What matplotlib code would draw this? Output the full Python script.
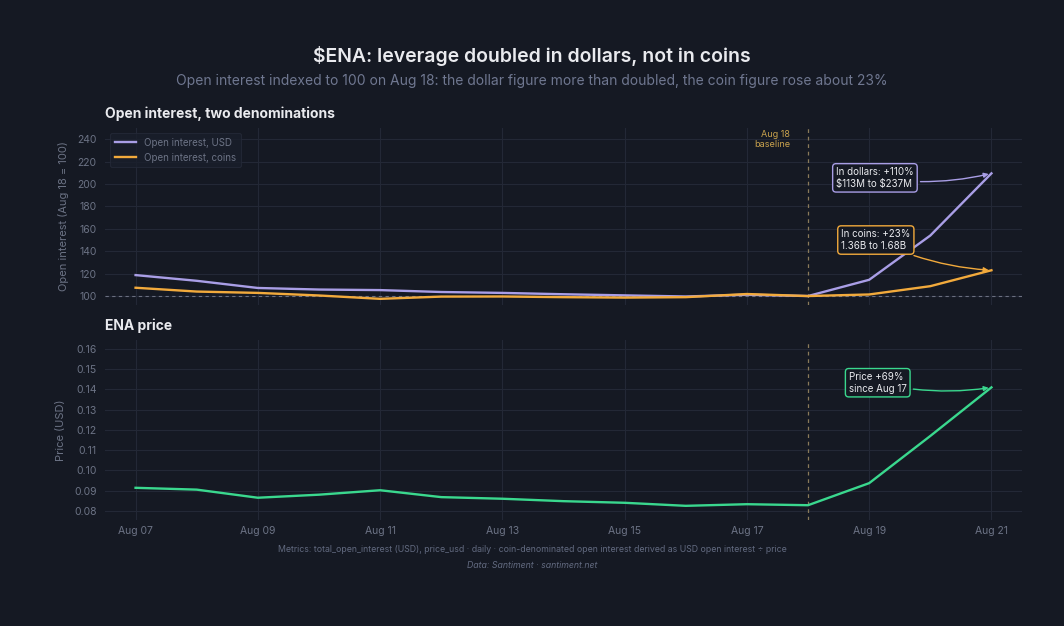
import matplotlib
matplotlib.use("Agg")
import matplotlib.pyplot as plt
import matplotlib.dates as mdates
import numpy as np
import pandas as pd

plt.rcParams['font.family'] = ['Inter', 'DejaVu Sans']

dates = pd.date_range("2025-08-07", "2025-08-21", freq="D")
oi_usd = [118.7, 113.6, 107.2, 105.8, 105.3, 103.6, 102.8, 101.6, 100.6, 99.6, 101.2, 100.0, 114.5, 154.0, 209.5]
oi_coins = [107.4, 104.0, 102.8, 100.5, 97.5, 99.5, 99.6, 99.0, 98.6, 99.0, 101.8, 100.0, 101.4, 108.8, 123.0]
price = [0.0914, 0.0905, 0.0865, 0.0880, 0.0902, 0.0868, 0.0860, 0.0848, 0.0840, 0.0825, 0.0833, 0.0828, 0.0937, 0.1170, 0.1410]
baseline_date = pd.Timestamp("2025-08-18")

BG = "#151923"
GRID = "#232836"
TICK = "#6c7385"
C_USD = "#a99ee6"
C_COIN = "#f2aa3c"
C_PRICE = "#3ad88e"
TXT = "#e9eaee"

fig = plt.figure(figsize=(10.64, 6.26), dpi=100, facecolor=BG)
L, R = 105/1064, 1022/1064
ax1 = fig.add_axes([L, 1-305/626, R-L, (305-128)/626])
ax2 = fig.add_axes([L, 1-520/626, R-L, (520-340)/626])

xmin = dates[0] - pd.Timedelta(hours=12)
xmax = dates[-1] + pd.Timedelta(hours=12)

for ax in (ax1, ax2):
    ax.set_facecolor(BG)
    for s in ax.spines.values():
        s.set_visible(False)
    ax.grid(True, color=GRID, linewidth=0.8)
    ax.set_axisbelow(True)
    ax.tick_params(colors=TICK, labelsize=7.5, length=0, pad=6)
    ax.set_xlim(xmin, xmax)
    ax.xaxis.set_major_locator(mdates.DayLocator(bymonthday=[7, 9, 11, 13, 15, 17, 19, 21]))
    ax.xaxis.set_major_formatter(mdates.DateFormatter("Aug %d"))
    ax.axvline(baseline_date, color="#8a7a5a", linestyle=(0, (3, 3)), linewidth=0.9, zorder=1)

# top panel
ax1.axhline(100, color="#6b7080", linestyle=(0, (3, 3)), linewidth=0.8, zorder=1)
ax1.plot(dates, oi_usd, color=C_USD, linewidth=1.7, label="Open interest, USD", zorder=3)
ax1.plot(dates, oi_coins, color=C_COIN, linewidth=1.7, label="Open interest, coins", zorder=3)
ax1.set_ylim(92, 250)
ax1.set_yticks([100, 120, 140, 160, 180, 200, 220, 240])
ax1.tick_params(axis='x', labelbottom=False)
ax1.set_ylabel("Open interest (Aug 18 = 100)", color=TICK, fontsize=8, labelpad=6)
leg = ax1.legend(loc="upper left", fontsize=7, frameon=True, facecolor="#1a1f2b", edgecolor="#252a38",
                 labelcolor=TICK, borderpad=0.5, handlelength=2.2, bbox_to_anchor=(0.0, 1.0))
leg.get_frame().set_linewidth(0.8)
ax1.text(0, 1.04, "Open interest, two denominations", transform=ax1.transAxes, color=TXT,
         fontsize=10, fontweight="bold", ha="left", va="bottom")
ax1.text(baseline_date - pd.Timedelta(hours=7), 240, "Aug 18\nbaseline", color="#c9a24d", fontsize=6.5,
         ha="right", va="center", linespacing=1.1)

ax1.annotate("In dollars: +110%\n\\$113M to \\$237M", xy=(dates[-1], oi_usd[-1]),
             xytext=(pd.Timestamp("2025-08-18 11:00"), 205.5), color=TXT, fontsize=7,
             ha="left", va="center", linespacing=1.2,
             bbox=dict(boxstyle="round,pad=0.35", fc=BG, ec=C_USD, lw=1.0),
             arrowprops=dict(arrowstyle="-|>", color=C_USD, lw=1.0, mutation_scale=7,
                             connectionstyle="arc3,rad=0.1"), zorder=5)
ax1.annotate("In coins: +23%\n1.36B to 1.68B", xy=(dates[-1], oi_coins[-1]),
             xytext=(pd.Timestamp("2025-08-18 13:00"), 150), color=TXT, fontsize=7,
             ha="left", va="center", linespacing=1.2,
             bbox=dict(boxstyle="round,pad=0.35", fc=BG, ec=C_COIN, lw=1.0),
             arrowprops=dict(arrowstyle="-|>", color=C_COIN, lw=1.0, mutation_scale=7,
                             connectionstyle="arc3,rad=0.1"), zorder=5)

# bottom panel
ax2.plot(dates, price, color=C_PRICE, linewidth=1.7, zorder=3)
ax2.set_ylim(0.0755, 0.1644)
ax2.set_yticks(np.round(np.arange(0.08, 0.1601, 0.01), 2))
ax2.yaxis.set_major_formatter(matplotlib.ticker.FuncFormatter(lambda v, p: f"{v:.2f}"))
ax2.set_ylabel("Price (USD)", color=TICK, fontsize=8, labelpad=6)
ax2.tick_params(axis='x', pad=4)
ax2.text(0, 1.04, "ENA price", transform=ax2.transAxes, color=TXT,
         fontsize=10, fontweight="bold", ha="left", va="bottom")
ax2.annotate("Price +69%\nsince Aug 17", xy=(dates[-1], price[-1]),
             xytext=(pd.Timestamp("2025-08-18 16:00"), 0.1433), color=TXT, fontsize=7,
             ha="left", va="center", linespacing=1.2,
             bbox=dict(boxstyle="round,pad=0.35", fc=BG, ec=C_PRICE, lw=1.0),
             arrowprops=dict(arrowstyle="-|>", color=C_PRICE, lw=1.0, mutation_scale=7,
                             connectionstyle="arc3,rad=0.1"), zorder=5)

fig.text(0.5, 1-56/626, "\\$ENA: leverage doubled in dollars, not in coins", color=TXT, fontsize=14,
         fontweight="semibold", ha="center", va="center")
fig.text(0.5, 1-81/626, "Open interest indexed to 100 on Aug 18: the dollar figure more than doubled, the coin figure rose about 23%",
         color="#6f7790", fontsize=10, ha="center", va="center")
fig.text(0.5, 1-550/626, "Metrics: total_open_interest (USD), price_usd · daily · coin-denominated open interest derived as USD open interest ÷ price",
         color="#626a80", fontsize=6.3, ha="center", va="center")
fig.text(0.5, 1-566/626, "Data: Santiment · santiment.net", color="#626a80", fontsize=6.3, style="italic",
         ha="center", va="center")

fig.savefig("out.png", dpi=100, facecolor=BG)
